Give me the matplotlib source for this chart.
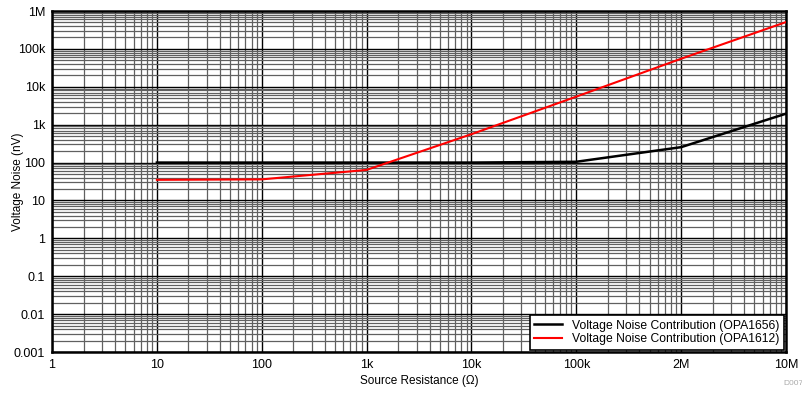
import matplotlib.pyplot as plt
import numpy as np
from matplotlib.ticker import LogLocator, NullFormatter

plt.rcParams['font.family'] = ['Liberation Sans', 'DejaVu Sans']

# 資料
r_opa1656 = [10, 100, 1e3, 1e4, 1e5, 1e6, 1e7]
v_opa1656 = [100, 100, 100, 100, 105, 255, 1950]
r_opa1612 = [10, 100, 1e3, 1e4, 1e5, 1e6, 1e7]
v_opa1612 = [35, 36, 64, 560, 5500, 55000, 510000]

x_ticks = [1, 10, 100, 1e3, 1e4, 1e5, 1e6, 1e7]
x_labels = ['1', '10', '100', '1k', '10k', '100k', '2M', '10M']
y_ticks = [1e-3, 1e-2, 0.1, 1, 10, 100, 1e3, 1e4, 1e5, 1e6]
y_labels = ['0.001', '0.01', '0.1', '1', '10', '100', '1k', '10k', '100k', '1M']

fig = plt.figure(figsize=(8.03, 3.93), dpi=100)
ax = fig.add_axes([0.0648, 0.1043, 0.9140, 0.8677])

ax.set_xscale('log')
ax.set_yscale('log')
ax.set_xlim(1, 1e7)
ax.set_ylim(1e-3, 1e6)

ax.plot(r_opa1656, v_opa1656, color='black', lw=1.8, label='Voltage Noise Contribution (OPA1656)', zorder=3)
ax.plot(r_opa1612, v_opa1612, color='red', lw=1.5, label='Voltage Noise Contribution (OPA1612)', zorder=3)

ax.set_xticks(x_ticks)
ax.set_xticklabels(x_labels)
ax.set_yticks(y_ticks)
ax.set_yticklabels(y_labels)
ax.xaxis.set_minor_locator(LogLocator(base=10, subs=np.arange(2, 10), numticks=20))
ax.yaxis.set_minor_locator(LogLocator(base=10, subs=np.arange(2, 10), numticks=20))
ax.xaxis.set_minor_formatter(NullFormatter())
ax.yaxis.set_minor_formatter(NullFormatter())
ax.tick_params(which='both', length=0, labelsize=9, pad=5)

ax.grid(which='major', color='black', lw=1.0)
ax.grid(which='minor', color='#606060', lw=0.9)

for s in ax.spines.values():
    s.set_linewidth(1.8)

ax.set_xlabel('Source Resistance (Ω)', fontsize=8.5, labelpad=3)
ax.set_ylabel('Voltage Noise (nV)', fontsize=8.5)
ax.yaxis.set_label_coords(-0.038, 0.5)

leg = ax.legend(loc='lower right', fontsize=8.7, frameon=True, fancybox=False,
                borderaxespad=0.15, handlelength=2.3, borderpad=0.4, labelspacing=0.15)
leg.get_frame().set_edgecolor('black')
leg.get_frame().set_linewidth(1.2)
leg.get_frame().set_alpha(1)

fig.text(0.975, 0.02, 'D007', fontsize=6, color='#aaaaaa', ha='left')

plt.savefig('out.png', dpi=100)
